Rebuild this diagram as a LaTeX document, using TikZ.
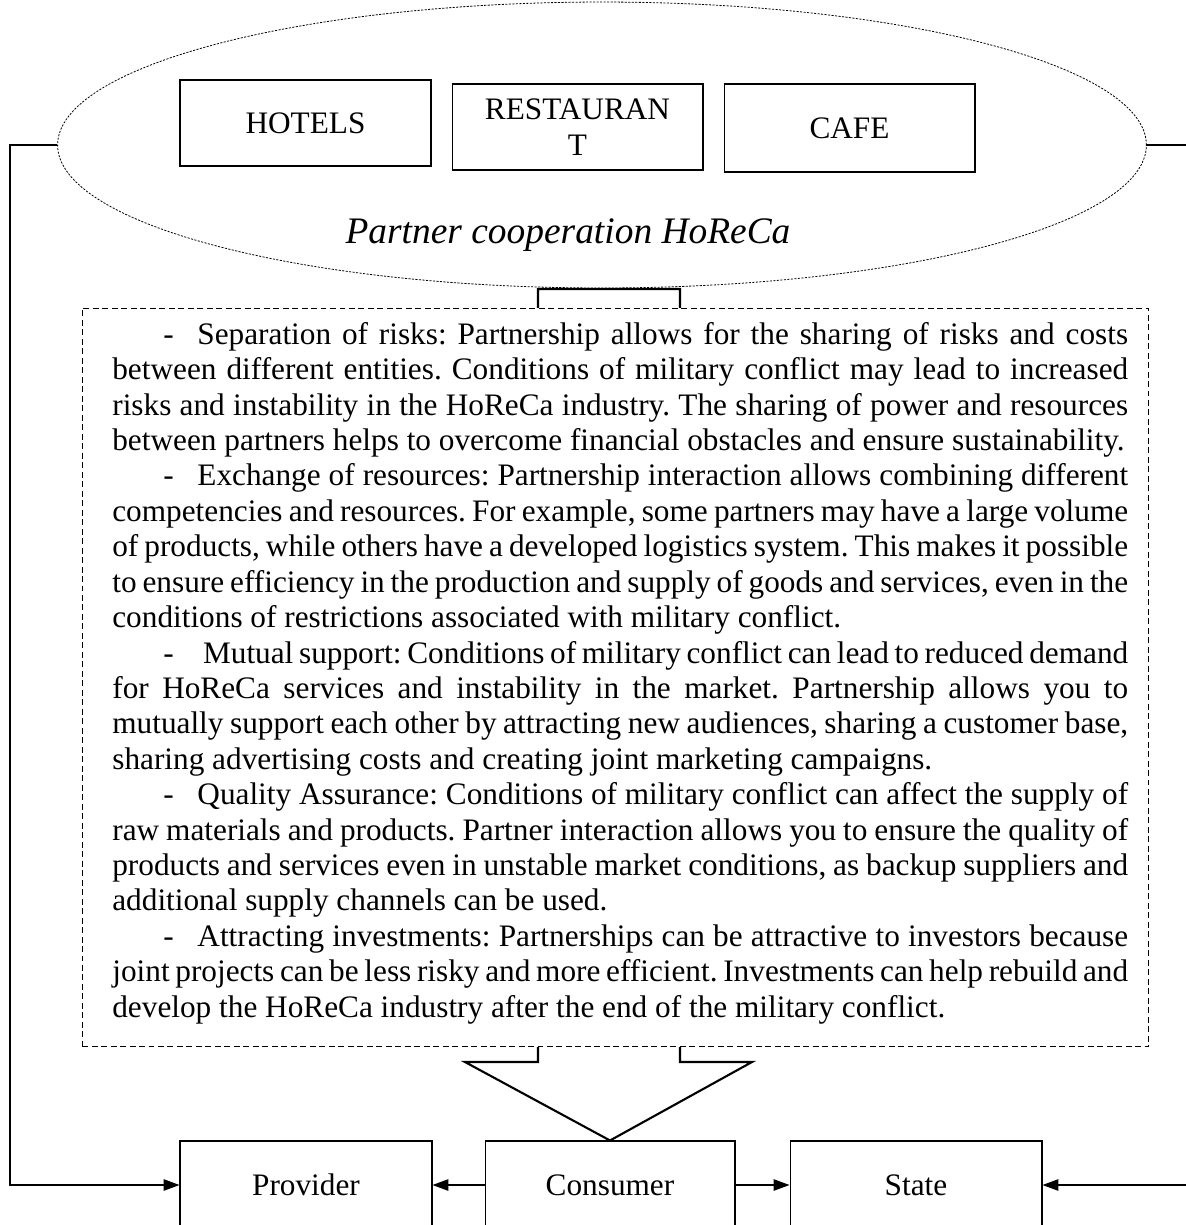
\documentclass[tikz,border=0pt]{standalone}
\usepackage{fontspec}
\setmainfont{Liberation Serif}
\usetikzlibrary{shapes.geometric,arrows.meta}

\newlength\bodyw
\setlength\bodyw{20.32cm}
\newcommand\jline[1]{\makebox[\bodyw][s]{#1}}
\newcommand\dashin{\hspace*{29pt}-\hspace{13.5pt}}

\tikzset{
  unit/.style={draw,line width=0.6pt,inner sep=0pt,align=center,
    font=\fontsize{17.8}{20.15}\selectfont},
}

\begin{document}
\frenchspacing
\begin{tikzpicture}[x=0.02cm,y=-0.02cm,>={Triangle[length=9pt,width=6.5pt]}]

  \useasboundingbox (0,0) rectangle (1186,1225);

  % the HoReCa cloud
  \node[ellipse,draw,line width=0.45pt,dash pattern=on 1.2pt off 0.8pt,
    minimum width=21.78cm,minimum height=5.72cm,inner sep=0pt] (Ell) at (602,145) {};

  \node[unit,minimum width=5.02cm,minimum height=1.72cm] (Hotels) at (305.5,123) {HOTELS};
  \node[unit,minimum width=5.02cm,minimum height=1.72cm] (Rest) at (577.5,127) {RESTAURAN\\T};
  \node[unit,minimum width=5.02cm,minimum height=1.76cm] (Cafe) at (849.5,128) {CAFE};

  \node[font=\fontsize{21.3}{24}\selectfont\itshape,anchor=base] (Title) at (568,243)
    {Partner cooperation HoReCa};

  % bottom row
  \node[unit,minimum width=5.04cm,minimum height=1.76cm] (Prov) at (306,1185) {Provider};
  \node[unit,minimum width=5.00cm,minimum height=1.76cm] (Cons) at (610,1185) {Consumer};
  \node[unit,minimum width=5.04cm,minimum height=1.76cm] (State) at (916,1185) {State};

  % big hollow arrow
  \draw[line width=1.2pt,line join=miter]
    (538,289) -- (680,289) -- (680,1062) -- (752,1062) -- (Cons.north)
    -- (465,1062) -- (538,1062) -- cycle;

  % dashed frame with the text
  \node[draw,fill=white,line width=0.6pt,dash pattern=on 3.4pt off 2pt,
    minimum width=21.34cm,minimum height=14.78cm,inner sep=0pt] (Frame) at (615.5,677.5) {};

  \node[anchor=north west,inner sep=0pt,align=left,
    font=\fontsize{17.8}{20.15}\selectfont] (Txt) at (112,322) {%
    \jline{\dashin Separation of risks: Partnership allows for the sharing of risks and costs}\\
    \jline{between different entities. Conditions of military conflict may lead to increased}\\
    \jline{risks and instability in the HoReCa industry. The sharing of power and resources}\\
    between partners helps to overcome financial obstacles and ensure sustainability.\\
    \jline{\dashin Exchange of resources: Partnership interaction allows combining different}\\
    \jline{competencies and resources. For example, some partners may have a large volume}\\
    \jline{of products, while others have a developed logistics system. This makes it possible}\\
    \jline{to ensure efficiency in the production and supply of goods and services, even in the}\\
    conditions of restrictions associated with military conflict.\\
    \jline{\dashin\ Mutual support: Conditions of military conflict can lead to reduced demand}\\
    \jline{for HoReCa services and instability in the market. Partnership allows you to}\\
    \jline{mutually support each other by attracting new audiences, sharing a customer base,}\\
    sharing advertising costs and creating joint marketing campaigns.\\
    \jline{\dashin Quality Assurance: Conditions of military conflict can affect the supply of}\\
    \jline{raw materials and products. Partner interaction allows you to ensure the quality of}\\
    \jline{products and services even in unstable market conditions, as backup suppliers and}\\
    additional supply channels can be used.\\
    \jline{\dashin Attracting investments: Partnerships can be attractive to investors because}\\
    \jline{joint projects can be less risky and more efficient. Investments can help rebuild and}\\
    develop the HoReCa industry after the end of the military conflict.};

  % connectors
  \draw[->,line width=0.6pt] (Ell.west) -- (10,145) |- (Prov.west);
  \draw[->,line width=0.6pt] (Ell.east) -- (1195,145) |- (State.east);
  \draw[->,line width=0.6pt] (Cons.west) -- (Prov.east);
  \draw[->,line width=0.6pt] (Cons.east) -- (State.west);

\end{tikzpicture}
\end{document}
